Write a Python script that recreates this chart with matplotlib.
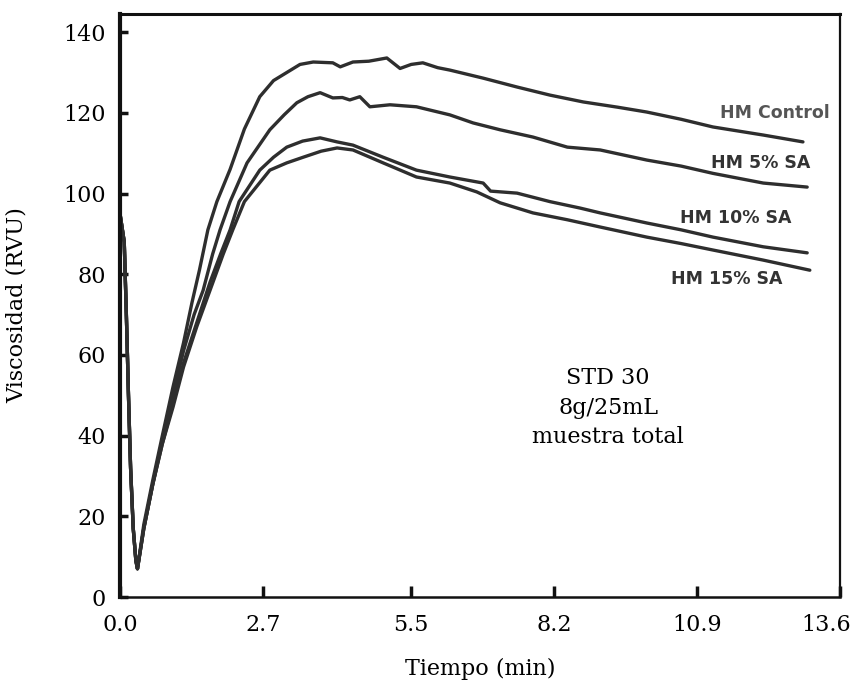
import matplotlib
matplotlib.use("Agg")
import matplotlib.pyplot as plt
from matplotlib.transforms import ScaledTranslation

plt.rcParams['font.family'] = ['DejaVu Serif']

# --- data (time in min, viscosity in RVU) ---
t_control = [0, 0.08, 0.12, 0.16, 0.2, 0.25, 0.3, 0.33, 0.45, 0.62, 0.8, 1.0, 1.2, 1.36, 1.5,
             1.66, 1.83, 2.08, 2.35, 2.64, 2.9, 3.15, 3.4, 3.65, 4.02, 4.16, 4.4, 4.7, 5.04,
             5.29, 5.5, 5.72, 6.0, 6.23, 6.86, 7.5, 8.12, 8.75, 9.4, 9.95, 10.6, 11.2, 12.15, 12.9]
v_control = [95, 88, 70, 50, 32, 17, 9, 7, 18, 29, 40, 52, 63, 73, 81,
             91, 98, 106, 116, 124, 128, 130, 132, 132.6, 132.4, 131.4, 132.6, 132.8, 133.6,
             131, 132, 132.4, 131.2, 130.6, 128.6, 126.4, 124.4, 122.7, 121.4, 120.2, 118.4, 116.5, 114.5, 112.8]

t_sa5 = [0, 0.08, 0.12, 0.16, 0.2, 0.25, 0.3, 0.33, 0.45, 0.62, 0.8, 1.0, 1.2, 1.4, 1.57,
         1.75, 1.89, 2.08, 2.4, 2.83, 3.1, 3.34, 3.55, 3.78, 4.02, 4.2, 4.34, 4.53, 4.72,
         5.1, 5.6, 6.23, 6.67, 7.18, 7.8, 8.45, 9.07, 9.95, 10.6, 11.2, 12.15, 12.98]
v_sa5 = [95, 88, 70, 50, 32, 17, 9, 7, 17, 28, 39, 50, 61, 70, 76,
         85, 91, 98, 107.6, 115.8, 119.5, 122.5, 124, 125, 123.7, 123.8, 123.2, 124, 121.5,
         122, 121.5, 119.5, 117.5, 115.8, 114, 111.5, 110.8, 108.3, 106.8, 105, 102.6, 101.6]

t_sa10 = [0, 0.08, 0.12, 0.16, 0.2, 0.25, 0.3, 0.33, 0.45, 0.62, 0.8, 1.0, 1.2, 1.45, 1.7,
          1.9, 2.08, 2.25, 2.64, 2.9, 3.15, 3.45, 3.78, 4.1, 4.4, 4.97, 5.6, 6.23, 6.86,
          7.0, 7.5, 8.12, 8.69, 9.07, 9.95, 10.6, 11.2, 12.15, 12.98]
v_sa10 = [95, 88, 70, 50, 32, 17, 9, 7, 17, 28, 38, 48, 58, 68, 78,
          85, 91, 98, 105.8, 109, 111.5, 113, 113.8, 112.8, 112, 109, 105.8, 104.1, 102.6,
          100.6, 100.1, 98, 96.4, 95.2, 92.7, 91, 89.2, 86.8, 85.3]

t_sa15 = [0, 0.08, 0.12, 0.16, 0.2, 0.25, 0.3, 0.33, 0.45, 0.62, 0.8, 1.0, 1.2, 1.45, 1.7,
          1.95, 2.13, 2.35, 2.83, 3.15, 3.46, 3.8, 4.1, 4.4, 4.97, 5.6, 6.23, 6.74, 7.18,
          7.8, 8.45, 9.07, 9.95, 10.6, 11.2, 12.15, 13.03]
v_sa15 = [95, 88, 70, 50, 32, 17, 9, 7, 17, 28, 38, 47, 57, 67, 76,
          85, 91, 98, 105.8, 107.6, 109, 110.5, 111.3, 110.8, 107.6, 104.1, 102.6, 100.4, 97.7,
          95.2, 93.5, 91.7, 89.2, 87.6, 86, 83.5, 81]

series_labels = ["HM Control", "HM 5% SA", "HM 10% SA", "HM 15% SA"]
x_ticks = [0.0, 2.7, 5.5, 8.2, 10.9, 13.6]
x_ticklabels = ["0.0", "2.7", "5.5", "8.2", "10.9", "13.6"]
y_ticks = [0, 20, 40, 60, 80, 100, 120, 140]

fig = plt.figure(figsize=(8.53, 6.84), dpi=100)
ax = fig.add_axes([120/853, 1-597/684, 720/853, 583/684])

line_color = '#2e2e2e'
for t, v in [(t_control, v_control), (t_sa5, v_sa5), (t_sa10, v_sa10), (t_sa15, v_sa15)]:
    ax.plot(t, v, color=line_color, lw=2.4, solid_joinstyle='round', solid_capstyle='round')

ax.set_xlim(0, 13.6)
ax.set_ylim(0, 144.5)
ax.set_xticks(x_ticks)
ax.set_xticklabels(x_ticklabels)
ax.set_yticks(y_ticks)
ax.tick_params(axis='x', direction='in', length=8, width=2.5, labelsize=16, pad=12, color='#111111')
ax.tick_params(axis='y', direction='in', length=6, width=2.5, labelsize=16, pad=10, color='#111111')

# shift the last x tick label slightly left so it stays in the figure
last = ax.get_xticklabels()[-1]
last.set_transform(last.get_transform() + ScaledTranslation(-14/100, 0, fig.dpi_scale_trans))

for side, w in [('left', 3.0), ('top', 2.2), ('bottom', 1.8), ('right', 1.6)]:
    ax.spines[side].set_linewidth(w)
    ax.spines[side].set_color('#111111')

ax.set_xlabel("Tiempo (min)", fontsize=16, labelpad=16)
ax.set_ylabel("Viscosidad (RVU)", fontsize=16, labelpad=26)

lab_kw = dict(family='DejaVu Sans', fontweight='bold', fontsize=12.5, va='center')
ax.text(13.41, 120, series_labels[0], ha='right', color='#555555', **lab_kw)
ax.text(12.11, 107.6, series_labels[1], ha='center', color='#333333', **lab_kw)
ax.text(11.64, 94, series_labels[2], ha='center', color='#333333', **lab_kw)
ax.text(11.47, 78.8, series_labels[3], ha='center', color='#333333', **lab_kw)

ax.text(9.22, 46.9, "STD 30\n8g/25mL\nmuestra total", ha='center', va='center',
        fontsize=16, linespacing=1.45)

fig.savefig("out.png", dpi=100)
